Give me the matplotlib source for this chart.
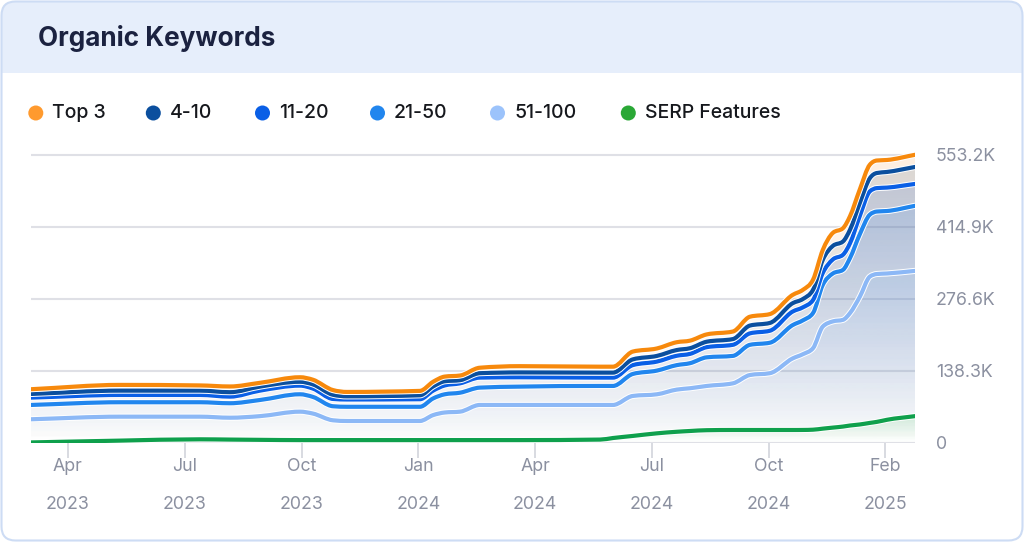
import numpy as np
import matplotlib
matplotlib.use("Agg")
import matplotlib.pyplot as plt
from matplotlib.path import Path
from matplotlib.patches import PathPatch, FancyBboxPatch, Rectangle, Circle
import matplotlib.patheffects as pe
from matplotlib.colors import to_rgb

plt.rcParams["font.family"] = ["Inter", "DejaVu Sans"]

# ---- data (keywords, thousands); x = months since Apr 2023 ----
months = [-0.95, 1.34, 3.39, 4.16, 4.93, 5.96, 6.29, 6.81, 7.17, 9.04, 9.38, 9.68,
          10.07, 10.58, 11.61, 13.67, 14.00, 14.51, 15.13, 15.64, 15.98, 16.41, 17.08,
          17.52, 18.03, 18.62, 18.88, 19.14, 19.39, 19.65, 19.91, 20.09, 20.34, 20.60,
          20.78, 21.04, 21.76]
top3 = [102.7, 111, 110, 108, 115, 125.7, 121, 101, 97.5, 99.5, 117, 127, 129, 144, 147,
        146, 146, 175, 181, 193, 196, 208, 213.5, 242, 247, 284, 293.6, 313, 370, 403,
        412, 435, 486, 534, 542, 543, 553]
pos4_10 = [93.6, 100, 100, 97, 107.7, 117, 112, 92, 89, 91, 108, 118, 120, 133.5, 135,
           134.6, 134.6, 160, 166.7, 178, 181.5, 194, 199, 225, 230, 268, 276, 293.6, 351,
           378, 386.5, 409, 460, 508, 518, 520, 529.6]
pos11_20 = [86.6, 91.7, 91.7, 88.5, 100, 109.6, 104, 84, 83, 83.5, 100, 110, 114, 125,
            125.7, 125, 125, 149, 155.8, 167, 170.6, 183.5, 188, 210, 215, 252, 260, 274,
            325.8, 352, 361, 383, 435, 482.7, 489, 490, 497]
pos21_50 = [72.5, 77.7, 77.7, 75.8, 82, 93, 88, 70, 69, 69, 85, 93, 96, 105.8, 107.7, 109,
            109, 132, 138.5, 149, 152.7, 164, 166.7, 188, 192, 226, 235, 249, 303, 325, 332,
            354.6, 400, 438, 444, 445, 455]
pos51_100 = [45, 50, 50, 48, 51, 59.6, 56, 43, 41.7, 41.7, 53, 58, 59.6, 72.5, 72.5, 72.5,
             72.5, 89.8, 93, 102, 104.6, 109, 114, 130, 133.5, 162, 170, 181.5, 223, 233,
             236, 249, 280, 319, 324, 325, 330]
serp = [0.5, 4, 6.5, 6, 5.5, 5, 5, 5, 5, 5, 5, 5, 5, 5, 5, 6, 9, 13, 18, 21, 22.5, 24,
        24.4, 24.4, 24.4, 24.4, 24.5, 25, 27, 29, 31, 33, 35, 38, 40, 44, 51]

series_names = ["Top 3", "4-10", "11-20", "21-50", "51-100", "SERP Features"]
dot_colors = ["#ff9a2e", "#0b4f9e", "#0a5fe6", "#2186ee", "#9cc3fb", "#2aa836"]
line_colors = ["#f7890c", "#0b4f9e", "#0a5fe6", "#2186ee", "#8cb8f6", "#0fa04c"]
fill_colors = ["#f7a04a", "#3a5f8e", "#3a6fd0", "#4a8fe8", "#86b2f2", "#3fbf55"]

ytick_vals = [0, 138.3, 276.6, 414.9, 553.2]
ytick_labels = ["0", "138.3K", "276.6K", "414.9K", "553.2K"]
xtick_vals = [0, 3, 6, 9, 12, 15, 18, 21]
xtick_labels = ["Apr\n2023", "Jul\n2023", "Oct\n2023", "Jan\n2024", "Apr\n2024",
                "Jul\n2024", "Oct\n2024", "Feb\n2025"]


def smooth(x, y):
    """monotone-x cubic as bezier segments (like d3 curveMonotoneX)"""
    x = np.asarray(x, float); y = np.asarray(y, float)
    h = np.diff(x); s = np.diff(y) / h
    t = np.zeros_like(y)
    t[0], t[-1] = s[0], s[-1]
    for i in range(1, len(x) - 1):
        if s[i - 1] * s[i] <= 0:
            t[i] = 0
        else:
            p = (s[i - 1] * h[i] + s[i] * h[i - 1]) / (h[i - 1] + h[i])
            t[i] = np.sign(s[i]) * min(abs(s[i - 1]), abs(s[i]), 0.5 * abs(p)) * 2
    verts, codes = [(x[0], y[0])], [Path.MOVETO]
    for i in range(len(x) - 1):
        d = h[i] / 3
        verts += [(x[i] + d, y[i] + d * t[i]), (x[i + 1] - d, y[i + 1] - d * t[i + 1]),
                  (x[i + 1], y[i + 1])]
        codes += [Path.CURVE4] * 3
    return verts, codes


W, H = 1024, 542
fig = plt.figure(figsize=(W / 100, H / 100), dpi=100)

# background card, header, title, legend in pixel coords
bg = fig.add_axes([0, 0, 1, 1], zorder=0)
bg.set_xlim(0, W); bg.set_ylim(H, 0); bg.axis("off")
bg.add_patch(FancyBboxPatch((1.5, 1.5), W - 3, H - 3, boxstyle="round,pad=0,rounding_size=14",
                            fc="white", ec="none"))
bg.add_patch(FancyBboxPatch((1.5, 1.5), W - 3, 90, boxstyle="round,pad=0,rounding_size=14",
                            fc="#e6eefb", ec="none"))
bg.add_patch(Rectangle((1.5, 73), W - 3, 30, fc="white", ec="none"))
bg.add_patch(FancyBboxPatch((1.5, 1.5), W - 3, H - 3, boxstyle="round,pad=0,rounding_size=14",
                            fc="none", ec="#cddcf4", lw=1.5))
bg.text(38, 38, "Organic Keywords", fontsize=18.8, fontweight="bold", color="#1b2240",
        va="center", ha="left")
dot_x = [35.8, 153.3, 262.5, 377.5, 497.5, 628.3]
for dx, name, c in zip(dot_x, series_names, dot_colors):
    bg.add_patch(Circle((dx, 113), 7.5, fc=c, ec="none"))
    bg.text(dx + 16.5, 113, name, fontsize=14, fontweight="medium", color="#16181d",
            va="center", ha="left")

ax = fig.add_axes([31 / W, (H - 442.7) / H, (915 - 31) / W, (442.7 - 140) / H], zorder=1)
ax.set_facecolor("none")
ymax = 581.4

data = [top3, pos4_10, pos11_20, pos21_50, pos51_100, serp]
# gradient area fills, fading to transparent at the baseline
for y, c in zip(data, fill_colors):
    verts, codes = smooth(months, y)
    verts = verts + [(months[-1], 0), (months[0], 0), (months[0], 0)]
    codes = codes + [Path.LINETO, Path.LINETO, Path.CLOSEPOLY]
    patch = PathPatch(Path(verts, codes), fc="none", ec="none", transform=ax.transData)
    ax.add_patch(patch)
    grad = np.zeros((256, 1, 4))
    grad[..., :3] = to_rgb(c)
    grad[:, 0, 3] = np.linspace(0.17, 0.0, 256)
    im = ax.imshow(grad, extent=[months[0], months[-1], 0, max(y)], aspect="auto",
                   origin="upper", zorder=1, interpolation="bilinear")
    im.set_clip_path(patch)

ax.set_xlim(months[0], months[-1]); ax.set_ylim(0, ymax)

for y, c in zip(reversed(data), reversed(line_colors)):
    verts, codes = smooth(months, y)
    ax.add_patch(PathPatch(Path(verts, codes), fc="none", ec=c, lw=3.0, capstyle="round",
                           joinstyle="round", zorder=3,
                           path_effects=[pe.Stroke(linewidth=4.4, foreground="white"),
                                         pe.Normal()]))

for s in ax.spines.values():
    s.set_visible(False)
ax.set_yticks(ytick_vals)
ax.set_yticklabels(ytick_labels)
ax.yaxis.tick_right()
ax.tick_params(axis="y", length=0, pad=15, labelsize=12.8, labelcolor="#8b90a0")
ax.grid(axis="y", color="#dfe0e6", lw=1.5, zorder=0)
ax.set_xticks(xtick_vals)
ax.set_xticklabels(xtick_labels, linespacing=2.6)
ax.tick_params(axis="x", length=11, width=1.3, color="#d6d8de", pad=0, labelsize=12.8,
               labelcolor="#8b90a0")
ax.set_axisbelow(True)

fig.savefig("out.png", dpi=100)
